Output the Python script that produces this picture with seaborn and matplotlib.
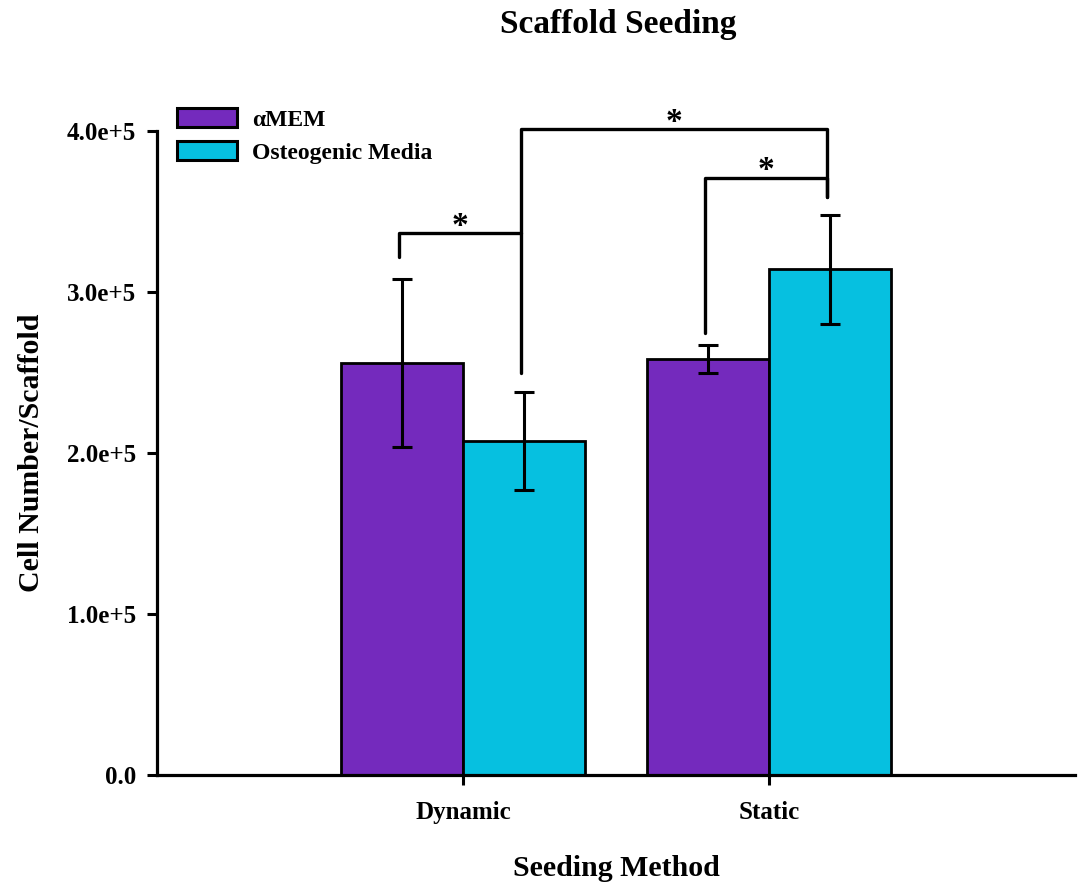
import pandas as pd
import seaborn as sns
from matplotlib import pyplot as plt
from matplotlib.patches import Patch

# data
methods = ["Dynamic", "Static"]
media = ["\u03b1MEM", "Osteogenic Media"]
amem_mean = [2.56e5, 2.585e5]
amem_err = [0.52e5, 0.085e5]
osteo_mean = [2.075e5, 3.14e5]
osteo_err = [0.305e5, 0.34e5]
colors = ["#742ABD", "#06C0E0"]

yticks = [0, 1e5, 2e5, 3e5, 4e5]
yticklabels = ["0.0", "1.0e+5", "2.0e+5", "3.0e+5", "4.0e+5"]

# significance brackets: (method idx, medium idx) of each end, bracket level, leg ends
br_from = [(0, 0), (0, 1), (1, 0)]
br_to = [(0, 1), (1, 1), (1, 1)]
br_top = [3.365e5, 4.01e5, 3.71e5]
br_left_end = [3.215e5, 2.50e5, 2.745e5]
br_right_end = [3.365e5, 3.59e5, 3.59e5]

df = pd.DataFrame({
    "method": methods * 2,
    "medium": [media[0]] * 2 + [media[1]] * 2,
    "cells": amem_mean + osteo_mean,
    "err": amem_err + osteo_err,
})

sns.set_style("ticks")
plt.rcParams["font.family"] = ["Liberation Serif", "DejaVu Serif"]
plt.rcParams["font.weight"] = "bold"
plt.rcParams["axes.labelweight"] = "bold"
for k in ["text.color", "axes.labelcolor", "xtick.color", "ytick.color", "axes.edgecolor"]:
    plt.rcParams[k] = "black"

fig, ax = plt.subplots(figsize=(10.78, 8.86), dpi=100)
fig.subplots_adjust(left=157/1078, right=1075/1078, bottom=1-775/886, top=1-131/886)

sns.barplot(data=df, x="method", y="cells", hue="medium", order=methods,
            hue_order=media, palette=colors, saturation=1, errorbar=None,
            edgecolor="black", linewidth=2, width=0.8, legend=False, ax=ax)

# error bars at bar centres
centres = {}
for mi, cont in enumerate(ax.containers):
    for gi, p in enumerate(cont.patches):
        centres[(gi, mi)] = p.get_x() + p.get_width() / 2
for mi, (means, errs) in enumerate([(amem_mean, amem_err), (osteo_mean, osteo_err)]):
    xs = [centres[(gi, mi)] for gi in range(len(methods))]
    ax.errorbar(xs, means, yerr=errs, fmt="none", ecolor="black",
                elinewidth=2.2, capsize=7.2, capthick=2.2, zorder=5)

# brackets
for a, b, top, le, re in zip(br_from, br_to, br_top, br_left_end, br_right_end):
    x1 = centres[a] - 0.01
    x2 = centres[b] - 0.01
    ax.plot([x1, x1, x2, x2], [le, top, top, re], color="black", lw=2.4,
            solid_joinstyle="round", clip_on=False, zorder=6)
    ax.annotate("*", xy=((x1 + x2) / 2, top), xytext=(0, -1),
                textcoords="offset points", ha="center", va="baseline",
                fontsize=24, annotation_clip=False)

ax.set_xlim(-1.0, 2.0)
ax.set_ylim(0, 4e5)
ax.set_yticks(yticks)
ax.set_yticklabels(yticklabels)
ax.tick_params(axis="both", labelsize=18, length=7, width=2.2)
ax.tick_params(axis="y", pad=8)
ax.tick_params(axis="x", pad=12)
for s in ["top", "right"]:
    ax.spines[s].set_visible(False)
for s in ["left", "bottom"]:
    ax.spines[s].set_linewidth(2.3)

ax.set_xlabel("Seeding Method", fontsize=21.5, labelpad=22)
ax.set_ylabel("Cell Number/Scaffold", fontsize=21.5, labelpad=16)
fig.text(618/1078, 1 - 24/886, "Scaffold Seeding", ha="center", va="center",
         fontsize=24, fontweight="bold")

handles = [Patch(facecolor=c, edgecolor="black", linewidth=2.2) for c in colors]
ax.legend(handles, media, loc="upper left", bbox_to_anchor=(177/1078, 1 - 108/886),
          bbox_transform=fig.transFigure, frameon=False, fontsize=17,
          handlelength=2.54, handleheight=0.85, handletextpad=0.64,
          labelspacing=0.45, borderpad=0, borderaxespad=0)

fig.savefig("out.png", dpi=100)
